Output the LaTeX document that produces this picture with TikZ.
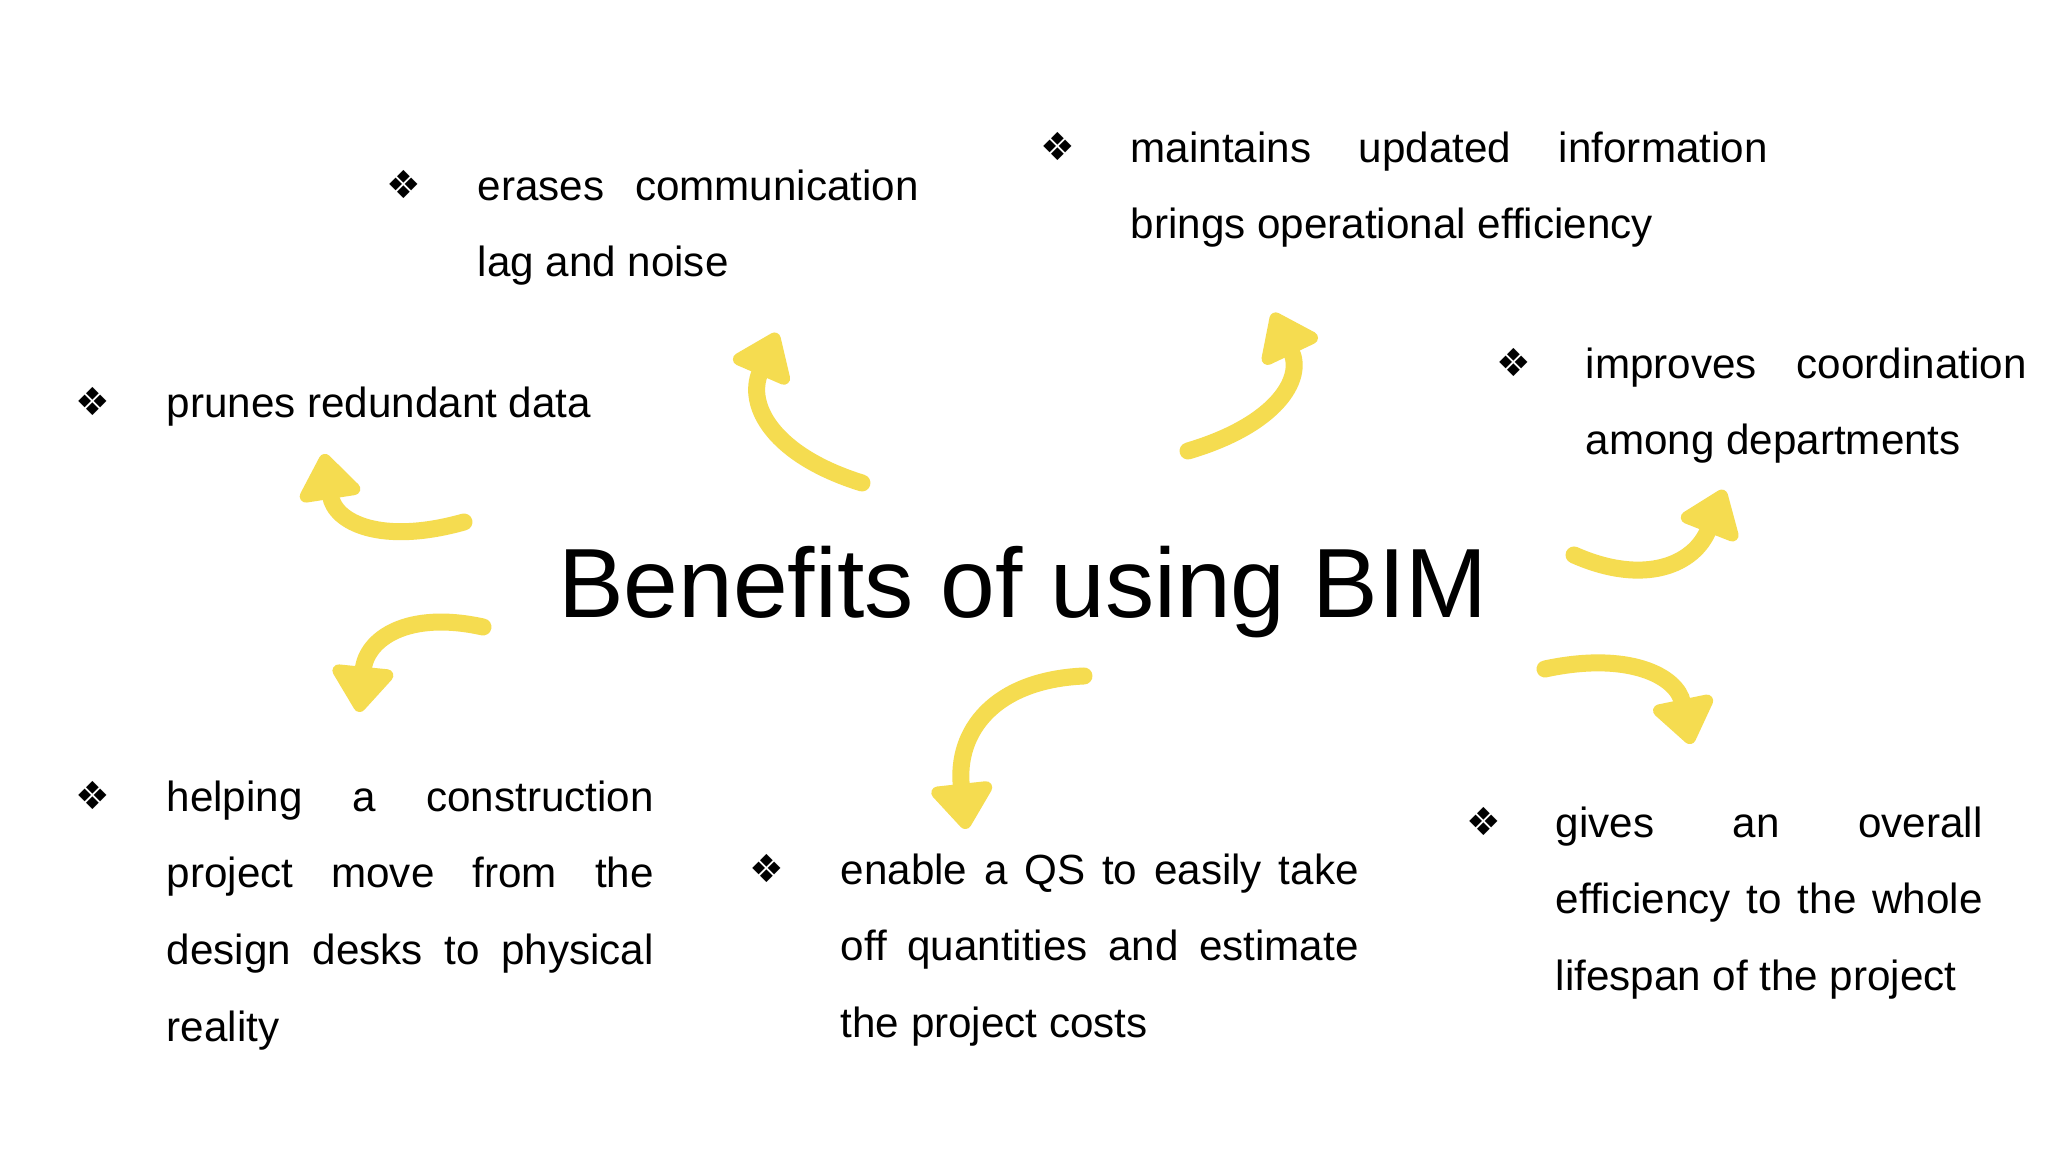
\documentclass[tikz,border=0pt]{standalone}
\usepackage{fontspec}
\setmainfont{Liberation Sans}
\newfontfamily\djv{DejaVu Sans}
\usetikzlibrary{arrows.meta,calc}
\hyphenpenalty=10000
\exhyphenpenalty=10000
\tikzset{
 txt/.style={anchor=north west,inner sep=0pt,align=justify,font=\fontsize{12pt}{21.8pt}\selectfont},
 bul/.style={inner sep=0pt,font=\djv\fontsize{11pt}{13pt}\selectfont},
 brush/.style={draw={rgb,255:red,245;green,220;blue,80},line width=0.17cm,line cap=round,
   -{Triangle[length=0.5cm,width=0.7cm,round]}}
}
\newcommand{\qarrow}[3]{\draw[brush] (#1) .. controls ($(#1)!0.667!(#2)$) and ($(#3)!0.667!(#2)$) .. (#3);}
\begin{document}
\begin{tikzpicture}
\useasboundingbox[fill=white] (0,0) rectangle (20.48,11.52);
\node[font=\fontsize{28pt}{32pt}\selectfont] (title) at (10.23,5.60) {Benefits of using BIM};
% texts
\node[bul] (b1) at (4.04,9.68) {❖};
\node[txt,text width=4.41cm] (t1) at (4.77,9.83) {erases communication lag and noise};
\node[bul] (b2) at (10.58,10.06) {❖};
\node[txt,text width=6.37cm] (t2) at (11.30,10.21) {maintains updated information brings operational efficiency};
\node[bul] (b3) at (15.14,7.90) {❖};
\node[txt,text width=4.41cm] (t3) at (15.85,8.05) {improves coordination among departments};
\node[bul] (b4) at (0.93,7.51) {❖};
\node[txt] (t4) at (1.66,7.66) {prunes redundant data};
\node[bul] (b5) at (0.93,3.57) {❖};
\node[txt,text width=4.87cm] (t5) at (1.66,3.72) {helping a construction project move from the design desks to physical reality};
\node[bul] (b6) at (7.67,2.84) {❖};
\node[txt,text width=5.18cm] (t6) at (8.40,2.99) {enable a QS to easily take off quantities and estimate the project costs};
\node[bul] (b7) at (14.84,3.31) {❖};
\node[txt,text width=4.27cm] (t7) at (15.55,3.46) {gives an overall efficiency to the whole lifespan of the project};
% arrows
\coordinate (a1t) at (8.62,6.69); \coordinate (a1c) at (7.30,7.10); \coordinate (a1h) at (7.77,8.19);
\coordinate (a2t) at (11.88,7.01); \coordinate (a2c) at (13.20,7.40); \coordinate (a2h) at (12.73,8.39);
\coordinate (a3t) at (15.74,5.97); \coordinate (a3c) at (16.80,5.50); \coordinate (a3h) at (17.24,6.62);
\coordinate (a4t) at (4.64,6.30); \coordinate (a4c) at (3.40,5.95); \coordinate (a4h) at (3.24,6.98);
\coordinate (a5t) at (4.83,5.25); \coordinate (a5c) at (3.70,5.50); \coordinate (a5h) at (3.59,4.40);
\coordinate (a6t) at (10.84,4.76); \coordinate (a6c) at (9.50,4.70); \coordinate (a6h) at (9.66,3.23);
\coordinate (a7t) at (15.45,4.83); \coordinate (a7c) at (16.70,5.10); \coordinate (a7h) at (16.91,4.08);
\qarrow{a1t}{a1c}{a1h}
\qarrow{a2t}{a2c}{a2h}
\qarrow{a3t}{a3c}{a3h}
\qarrow{a4t}{a4c}{a4h}
\qarrow{a5t}{a5c}{a5h}
\qarrow{a6t}{a6c}{a6h}
\qarrow{a7t}{a7c}{a7h}
\end{tikzpicture}
\end{document}
